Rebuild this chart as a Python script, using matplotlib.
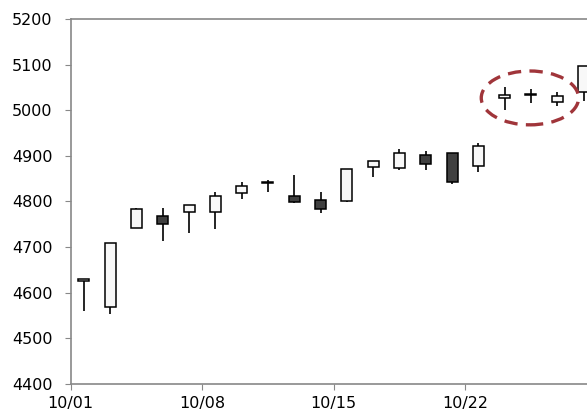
import matplotlib.pyplot as plt
from matplotlib.patches import Ellipse

# trading days (weekdays only)
days = ['10/01', '10/02', '10/03', '10/04', '10/05',
        '10/08', '10/09', '10/10', '10/11', '10/12',
        '10/15', '10/16', '10/17', '10/18', '10/19',
        '10/22', '10/23', '10/24', '10/25', '10/26']
opens = [4626, 4568, 4742, 4769, 4777, 4777, 4818, 4842, 4811, 4803,
         4800, 4875, 4874, 4901, 4906, 4878, 5026, 5036, 5019, 5041]
highs = [4630, 4710, 4786, 4785, 4792, 4820, 4842, 4848, 4858, 4821,
         4871, 4888, 4916, 4911, 4906, 4928, 5050, 5046, 5040, 5098]
lows = [4560, 4554, 4742, 4714, 4731, 4740, 4806, 4820, 4797, 4775,
        4798, 4853, 4869, 4869, 4839, 4864, 5001, 5015, 5010, 5020]
closes = [4630, 4710, 4783, 4750, 4792, 4812, 4833, 4840, 4798, 4783,
          4871, 4888, 4906, 4882, 4842, 4922, 5033, 5034, 5031, 5098]
tick_days = ['10/01', '10/08', '10/15', '10/22']

fig = plt.figure(figsize=(5.87, 4.11), dpi=100)
ax = fig.add_axes([0.1204, 0.0657, 0.8796, 0.8881])

n = len(days)
xs = [i + 0.5 for i in range(n)]
ax.vlines(xs, lows, highs, color='black', lw=1.2, zorder=2)
for x, o, c in zip(xs, opens, closes):
    col = '#f8f8f8' if c >= o else '#404040'
    h = abs(c - o)
    if h < 2:
        h = 2
    ax.bar(x, h, width=0.42, bottom=min(o, c), color=col,
           edgecolor='black', linewidth=1.1, zorder=3)

# highlight the last sideways days
ell = Ellipse((17.46, 5027), 3.7, 118, fill=False, edgecolor='#a0353a',
              lw=2.4, linestyle=(0, (4, 2.5)), zorder=4)
ax.add_patch(ell)

ax.set_ylim(4400, 5200)
ax.set_yticks(range(4400, 5201, 100))
ax.set_xlim(0, 19.63)
ax.set_xticks([days.index(d) for d in tick_days])
ax.set_xticklabels(tick_days)

for s in ['left', 'bottom', 'top']:
    ax.spines[s].set_color('#888888')
    ax.spines[s].set_linewidth(1.2)
ax.spines['right'].set_visible(False)
ax.tick_params(axis='y', direction='out', length=4, color='#888888',
               labelsize=11.5, pad=9)
ax.tick_params(axis='x', direction='out', length=4, color='#888888',
               labelsize=11.5, pad=5)

fig.savefig('out.png', dpi=100)
plt.close('all')
